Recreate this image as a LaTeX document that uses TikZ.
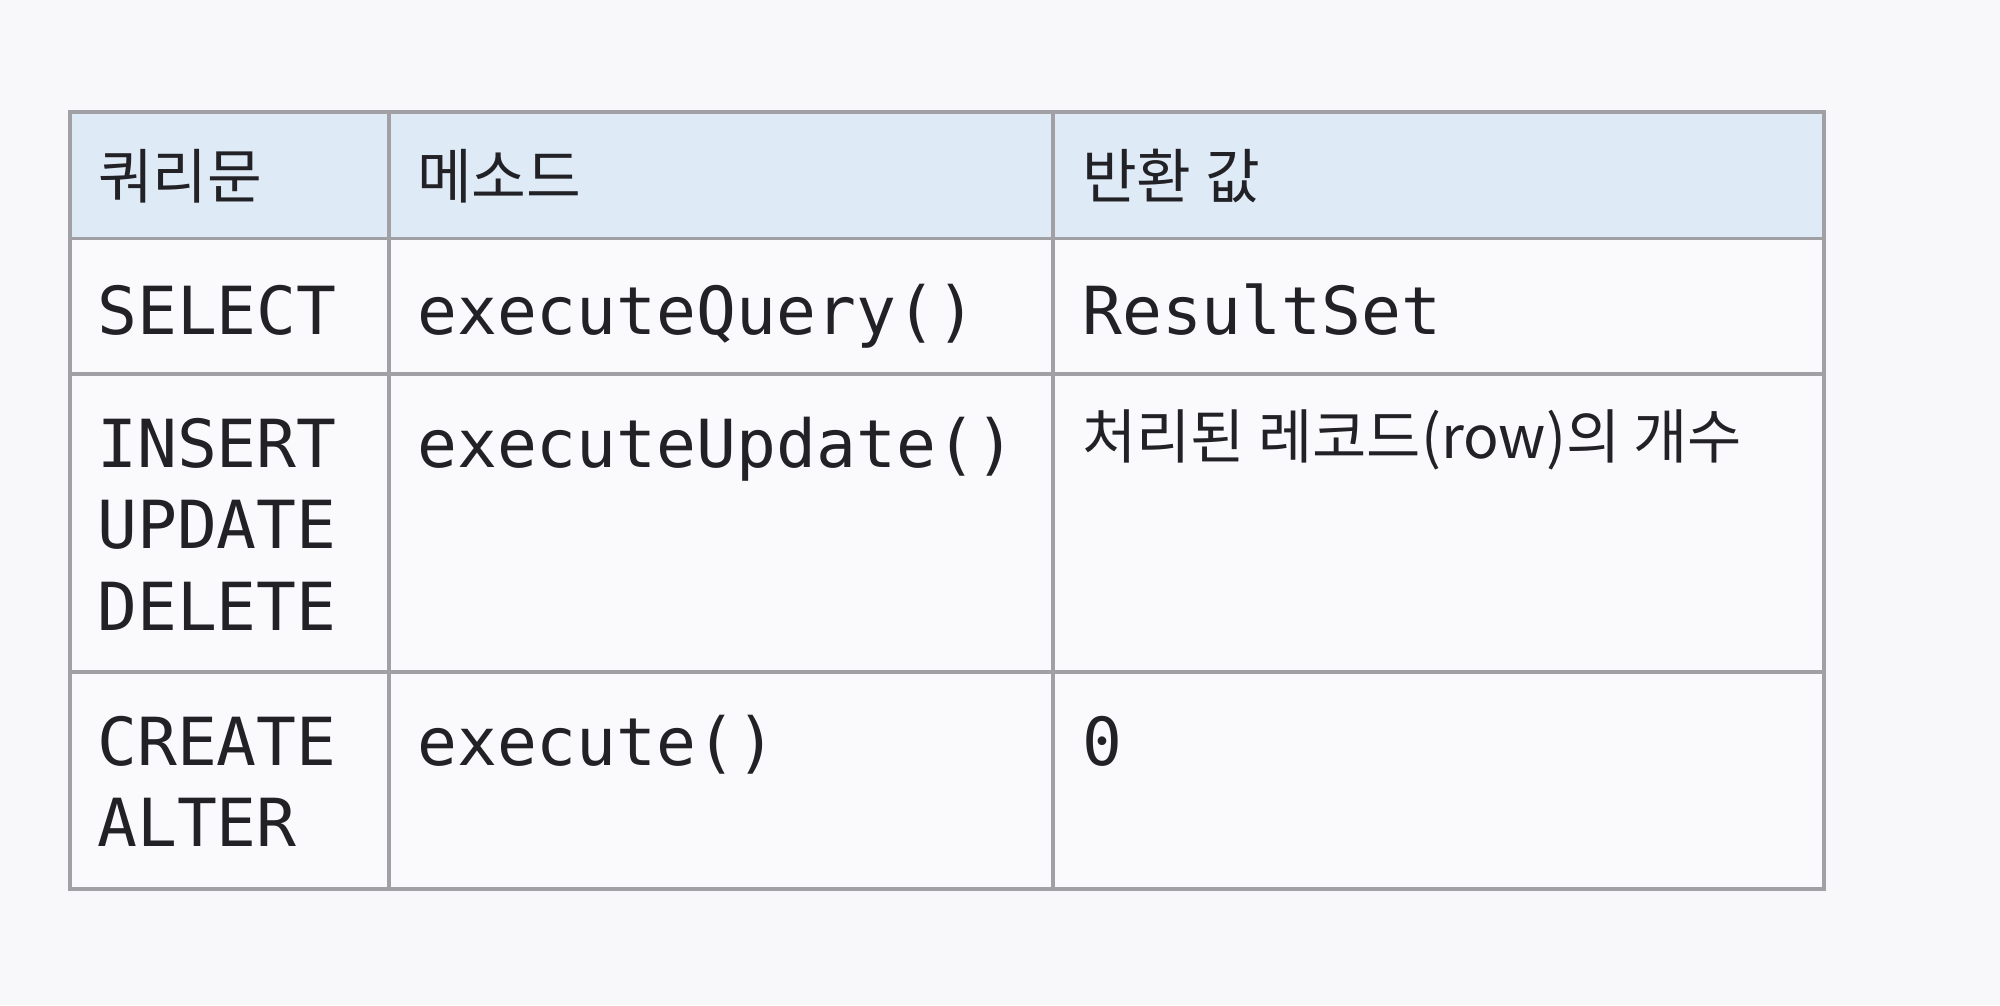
\documentclass[tikz,border=0pt]{standalone}
\usepackage{fontspec}
\newfontfamily\krfont{Noto Sans CJK KR}
\newfontfamily\monofont{DejaVu Sans Mono}
\definecolor{bgc}{RGB}{248,247,250}
\definecolor{hdrc}{RGB}{223,234,247}
\definecolor{cellc}{RGB}{250,250,252}
\definecolor{gridc}{RGB}{160,160,165}
\definecolor{txtc}{RGB}{34,34,38}
\begin{document}
\begin{tikzpicture}[x=1pt,y=-1pt,
  gridline/.style={draw=gridc,line width=3.5pt},
  hdrtext/.style={anchor=base west,inner sep=0pt,text=txtc,font=\krfont\fontsize{59.5}{70}\selectfont},
  krtext/.style={anchor=base west,inner sep=0pt,text=txtc,font=\krfont\fontsize{59}{70}\selectfont},
  codetext/.style={anchor=base west,inner sep=0pt,text=txtc,font=\monofont\fontsize{66.3}{80}\selectfont}]
\fill[bgc] (0,0) rectangle (2000,1005);
\useasboundingbox (0,0) rectangle (2000,1005);
% cells
\fill[hdrc] (70,112) rectangle (1824,238.5);
\fill[cellc] (70,238.5) rectangle (1824,889);
% grid
\draw[gridline] (70,238.5) -- (1824,238.5);
\draw[gridline] (70,374) -- (1824,374);
\draw[gridline] (70,672) -- (1824,672);
\draw[gridline] (389,112) -- (389,889);
\draw[gridline] (1053,112) -- (1053,889);
\draw[gridline,line width=4pt] (70,112) rectangle (1824,889);
% header
\node[hdrtext] (h1) at (98,198) {쿼리문};
\node[hdrtext] (h2) at (417,198) {메소드};
\node[hdrtext] (h3) at (1082,198) {반환 값};
% row 1
\node[codetext] (r1a) at (97,334) {SELECT};
\node[codetext] (r1b) at (417,334) {executeQuery()};
\node[codetext] (r1c) at (1082,334) {ResultSet};
% row 2
\node[codetext] (r2a) at (97,467) {INSERT};
\node[codetext] (r2a2) at (97,548) {UPDATE};
\node[codetext] (r2a3) at (97,630) {DELETE};
\node[codetext] (r2b) at (417,467) {executeUpdate()};
\node[krtext] (r2c) at (1082,458) {처리된 레코드(row)의 개수};
% row 3
\node[codetext] (r3a) at (97,765) {CREATE};
\node[codetext] (r3a2) at (97,846) {ALTER};
\node[codetext] (r3b) at (417,765) {execute()};
\node[codetext] (r3c) at (1082,765) {0};
\end{tikzpicture}
\end{document}
